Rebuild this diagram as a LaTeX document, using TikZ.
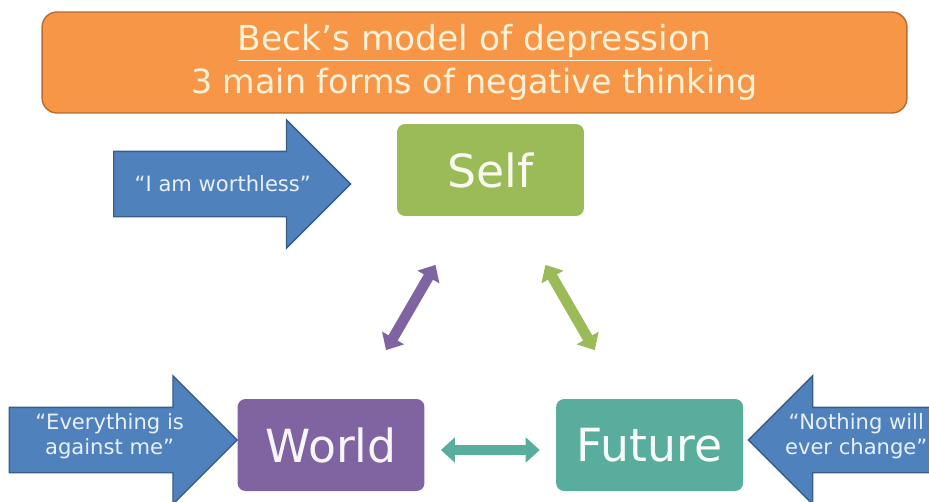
\documentclass[tikz,border=0pt]{standalone}
\usepackage{fontspec}
\setmainfont{DejaVu Sans}
\usetikzlibrary{arrows.meta,shapes.arrows,positioning,calc}
\definecolor[named]{Orange}{HTML}{F79646}
\definecolor[named]{Rust}{HTML}{B96A2C}
\definecolor[named]{Cream}{HTML}{FFF2D8}
\definecolor[named]{Leaf}{HTML}{9BBB59}
\definecolor[named]{Plum}{HTML}{8064A2}
\definecolor[named]{Sea}{HTML}{58AD9D}
\definecolor[named]{Sky}{HTML}{4F81BD}
\definecolor[named]{Navy}{HTML}{3A5E8C}
\definecolor[named]{Pale}{HTML}{E9F0FA}
\tikzset{titlebox/.style={
        rectangle,
        fill=Orange,
        draw=Rust,
        line width=.8pt,
        rounded corners=.3cm,
        minimum width=17.3cm,
        minimum height=2.02cm,
        text=Cream,
        align=center,
        font=\fontsize{19}{24.4}\selectfont
    },
    box/.style={
        rectangle,
        rounded corners=.16cm,
        minimum width=3.74cm,
        minimum height=1.84cm,
        font=\fontsize{26}{30}\selectfont
    },
    selfbox/.style={
        box,
        fill=Leaf,
        text=Cream!70!Leaf!20!white
    },
    worldbox/.style={
        box,
        fill=Plum,
        text=Plum!6!white
    },
    futurebox/.style={
        box,
        fill=Sea,
        text=Sea!5!white
    },
    blockarrow/.style={
        single arrow,
        draw=Navy,
        fill=Sky,
        line width=.8pt,
        inner xsep=0,
        inner ysep=.64cm,
        single arrow head extend=.63cm
    },
    arrowtxt/.style={
        text=Pale,
        align=center,
        font=\fontsize{12}{14}\selectfont
    },
    link/.style={
        line width=6pt,
        {Triangle[width=14pt,length=8pt]}-{Triangle[width=14pt,length=8pt]}
    }}

\begin{document}
\begin{tikzpicture}[x=.02cm,y=-.02cm]
    \useasboundingbox (0,0) rectangle (929,501);
    \clip (0,0) rectangle (929,501);
    \fill[white] (0,0) rectangle (929,501);

    \node (title)[titlebox] at (474.5,62.5)
        {{\fontsize{19.6}{24.4}\selectfont\underline{Beck's model of depression}}\\
         3 main forms of negative thinking};

    % the three boxes
    \node (self)[selfbox] at (490.5,170) {Self};
    \node (world)[worldbox] at (331,445) {World};
    \node (future)[futurebox,right=2.62cm of world] {Future};

    % blue arrows pointing at the boxes
    \node (worthless)[blockarrow,anchor=tip,minimum height=4.74cm]
        at ($(self.west)+(-45,14)$) {};
    \node (everything)[blockarrow,anchor=tip,minimum height=4.56cm]
        at ($(world.west)+(1,-5)$) {};
    \node (nothing)[blockarrow,anchor=tip,minimum height=4.8cm,shape border rotate=180]
        at ($(future.east)+(4,-5)$) {};

    \node (worthlesstxt)[arrowtxt]
        at ($(worthless.tail)!.46!(worthless.tip)$) {“I am worthless”};
    \node (everythingtxt)[arrowtxt]
        at ($(everything.tail)!.44!(everything.tip)+(0,-4)$) {“Everything is\\against me”};
    \node (nothingtxt)[arrowtxt]
        at ($(nothing.tail)!.55!(nothing.tip)+(0,-4)$) {“Nothing will\\ever change”};

    % links between the boxes
    \draw[link,Plum] ($(world)!.345!(self)$) -- ($(world)!.655!(self)$);
    \draw[link,Leaf] ($(future)!.345!(self)$) -- ($(future)!.655!(self)$);
    \draw[link,Sea] ($(world)!.345!(future)+(0,5)$) -- ($(world)!.655!(future)+(0,5)$);
\end{tikzpicture}
\end{document}
